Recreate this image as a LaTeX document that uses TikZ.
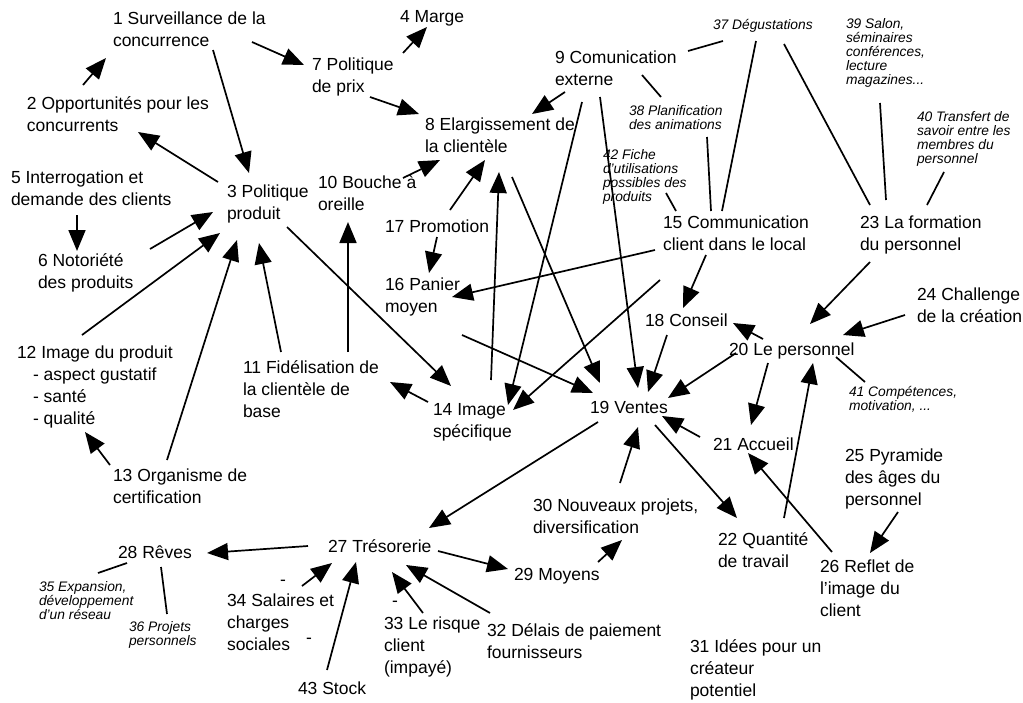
\documentclass[tikz,border=0pt]{standalone}
\usepackage{fontspec}
\setmainfont{Liberation Sans}
\usetikzlibrary{arrows.meta}

\begin{document}
\begin{tikzpicture}[x=1pt, y=-1pt]
        % Define block styles
        \tikzstyle{concept} = [anchor=north west, inner sep=0pt, outer sep=0pt, align=left, font=\fontsize{17.5}{22}\selectfont, execute at begin node={\rule{0pt}{14pt}}]
        \tikzstyle{note} = [anchor=north west, inner sep=0pt, outer sep=0pt, align=left, font=\fontsize{13.8}{14}\selectfont\itshape, execute at begin node={\rule{0pt}{11pt}}]
        \tikzstyle{line} = [draw, line width=1.7pt, -{Triangle[length=21pt, width=17pt]}]
        \tikzstyle{assoc} = [draw, line width=1.7pt]

        \path [fill=white] (0,0) rectangle (1023,702);

        % Nodes
        \node [concept] (Surveillance) at (113,12) {1 Surveillance de la\\concurrence};
        \node [concept] (Opportunites) at (27,97) {2 Opportunités pour les\\concurrents};
        \node [concept] (Politique_Produit) at (227,185) {3 Politique\\produit};
        \node [concept] (Marge) at (400,8) {4 Marge};
        \node [concept] (Interrogation) at (11,171) {5 Interrogation et\\demande des clients};
        \node [concept] (Notoriete) at (38,254) {6 Notoriété\\des produits};
        \node [concept] (Politique_Prix) at (312,58) {7 Politique\\de prix};
        \node [concept] (Elargissement) at (425,118) {8 Elargissement de\\la clientèle};
        \node [concept] (Comm_Externe) at (555,51) {9 Comunication\\externe};
        \node [concept] (Bouche_Oreille) at (318,176) {10 Bouche à\\oreille};
        \node [concept] (Fidelisation) at (243,361) {11 Fidélisation de\\la clientèle de\\base};
        \node [concept] (Image_Produit) at (17,346) {12 Image du produit\\\hspace*{16pt}- aspect gustatif\\\hspace*{16pt}- santé\\\hspace*{16pt}- qualité};
        \node [concept] (Certification) at (113,469) {13 Organisme de\\certification};
        \node [concept] (Image_Specifique) at (433,403) {14 Image\\spécifique};
        \node [concept] (Comm_Client) at (663,216) {15 Communication\\client dans le local};
        \node [concept] (Panier_Moyen) at (385,278) {16 Panier\\moyen};
        \node [concept] (Promotion) at (385,218) {17 Promotion};
        \node [concept] (Conseil) at (645,312) {18 Conseil};
        \node [concept] (Ventes) at (590,399) {19 Ventes};
        \node [concept] (Personnel) at (729,341) {20 Le personnel};
        \node [concept] (Accueil) at (713,436) {21 Accueil};
        \node [concept] (Quantite_Travail) at (718,533) {22 Quantité\\de travail};
        \node [concept] (Formation) at (860,216) {23 La formation\\du personnel};
        \node [concept] (Challenge) at (917,288) {24 Challenge\\de la création};
        \node [concept] (Pyramide) at (845,449) {25 Pyramide\\des âges du\\personnel};
        \node [concept] (Reflet) at (820,560) {26 Reflet de\\l’image du\\client};
        \node [concept] (Tresorerie) at (328,538) {27 Trésorerie};
        \node [concept] (Reves) at (118,544) {28 Rêves};
        \node [concept] (Moyens) at (514,566) {29 Moyens};
        \node [concept] (Nouveaux_Projets) at (533,499) {30 Nouveaux projets,\\diversification};
        \node [concept] (Idees) at (690,640) {31 Idées pour un\\créateur\\potentiel};
        \node [concept] (Delais) at (487,624) {32 Délais de paiement\\fournisseurs};
        \node [concept] (Risque_Client) at (384,617) {33 Le risque\\client\\(impayé)};
        \node [concept] (Salaires) at (227,594) {34 Salaires et\\charges\\sociales};
        \node [concept] (Stock) at (298,680) {43 Stock};
        \node [concept] (Minus_A) at (280,571) {-};
        \node [concept] (Minus_B) at (306,629) {-};
        \node [concept] (Minus_C) at (392,592) {-};

        % Notes
        \node [note] (Expansion) at (39,581) {35 Expansion,\\développement\\d’un réseau};
        \node [note] (Projets_Perso) at (129,621) {36 Projets\\personnels};
        \node [note] (Degustations) at (713,18) {37 Dégustations};
        \node [note] (Planification) at (629,105) {38 Planification\\des animations};
        \node [note] (Salon) at (846,18) {39 Salon,\\séminaires\\conférences,\\lecture\\magazines...};
        \node [note] (Transfert) at (917,111) {40 Transfert de\\savoir entre les\\membres du\\personnel};
        \node [note] (Competences) at (849,386) {41 Compétences,\\motivation, ...};
        \node [note] (Fiche) at (603,149) {42 Fiche\\d’utilisations\\possibles des\\produits};

        % Arrows
        \path [line] ([shift={(56,-12)}]Opportunites.north west) -- ([shift={(-7,46)}]Surveillance.north west);
        \path [line] ([shift={(139,30)}]Surveillance.north west) -- ([shift={(-8,7)}]Politique_Prix.north west);
        \path [line] ([shift={(100,38)}]Surveillance.north west) -- ([shift={(22,-12)}]Politique_Produit.north west);
        \path [line] ([shift={(-9,-3)}]Politique_Produit.north west) -- ([shift={(111,35)}]Opportunites.north west);
        \path [line] ([shift={(66,44)}]Interrogation.north west) -- ([shift={(39,-3)}]Notoriete.north west);
        \path [line] ([shift={(112,-5)}]Notoriete.north west) -- ([shift={(-14,27)}]Politique_Produit.north west);
        \path [line] ([shift={(65,-11)}]Image_Produit.north west) -- ([shift={(-7,48)}]Politique_Produit.north west);
        \path [line] ([shift={(54,-9)}]Certification.north west) -- ([shift={(10,55)}]Politique_Produit.north west);
        \path [line] ([shift={(38,-9)}]Fidelisation.north west) -- ([shift={(32,58)}]Politique_Produit.north west);
        \path [line] ([shift={(-3,-4)}]Certification.north west) -- ([shift={(68,86)}]Image_Produit.north west);
        \path [line] ([shift={(105,-9)}]Fidelisation.north west) -- ([shift={(30,46)}]Bouche_Oreille.north west);
        \path [line] ([shift={(60,42)}]Politique_Produit.north west) -- ([shift={(18,-17)}]Image_Specifique.north west);
        \path [line] ([shift={(-5,-1)}]Image_Specifique.north west) -- ([shift={(147,21)}]Fidelisation.north west);
        \path [line] ([shift={(58,-23)}]Image_Specifique.north west) -- ([shift={(74,54)}]Elargissement.north west);
        \path [line] ([shift={(85,2)}]Bouche_Oreille.north west) -- ([shift={(15,42)}]Elargissement.north west);
        \path [line] ([shift={(65,-8)}]Promotion.north west) -- ([shift={(60,42)}]Elargissement.north west);
        \path [line] ([shift={(52,19)}]Promotion.north west) -- ([shift={(44,-5)}]Panier_Moyen.north west);
        \path [line] ([shift={(91,-5)}]Politique_Prix.north west) -- ([shift={(27,19)}]Marge.north west);
        \path [line] ([shift={(58,39)}]Politique_Prix.north west) -- ([shift={(-6,-4)}]Elargissement.north west);
        \path [line] ([shift={(10,41)}]Comm_Externe.north west) -- ([shift={(107,-4)}]Elargissement.north west);
        \path [line] ([shift={(27,51)}]Comm_Externe.north west) -- ([shift={(75,2)}]Image_Specifique.north west);
        \path [line] ([shift={(45,46)}]Comm_Externe.north west) -- ([shift={(48,-11)}]Ventes.north west);
        \path [line] ([shift={(87,59)}]Elargissement.north west) -- ([shift={(10,-16)}]Ventes.north west);
        \path [line] ([shift={(77,57)}]Panier_Moyen.north west) -- ([shift={(3,-6)}]Ventes.north west);
        \path [line] ([shift={(-8,34)}]Comm_Client.north west) -- ([shift={(67,19)}]Panier_Moyen.north west);
        \path [line] ([shift={(-3,64)}]Comm_Client.north west) -- ([shift={(80,7)}]Image_Specifique.north west);
        \path [line] ([shift={(43,39)}]Comm_Client.north west) -- ([shift={(38,-4)}]Conseil.north west);
        \path [line] ([shift={(22,23)}]Conseil.north west) -- ([shift={(58,-7)}]Ventes.north west);
        \path [line] ([shift={(7,12)}]Personnel.north west) -- ([shift={(78,-1)}]Ventes.north west);
        \path [line] ([shift={(34,-2)}]Personnel.north west) -- ([shift={(88,11)}]Conseil.north west);
        \path [line] ([shift={(10,46)}]Formation.north west) -- ([shift={(81,-17)}]Personnel.north west);
        \path [line] ([shift={(-12,27)}]Challenge.north west) -- ([shift={(114,-6)}]Personnel.north west);
        \path [line] ([shift={(39,22)}]Personnel.north west) -- ([shift={(38,-11)}]Accueil.north west);
        \path [line] ([shift={(66,-15)}]Quantite_Travail.north west) -- ([shift={(84,22)}]Personnel.north west);
        \path [line] ([shift={(12,-8)}]Reflet.north west) -- ([shift={(35,17)}]Accueil.north west);
        \path [line] ([shift={(-13,1)}]Accueil.north west) -- ([shift={(72,17)}]Ventes.north west);
        \path [line] ([shift={(65,26)}]Ventes.north west) -- ([shift={(19,-15)}]Quantite_Travail.north west);
        \path [line] ([shift={(87,-16)}]Nouveaux_Projets.north west) -- ([shift={(48,28)}]Ventes.north west);
        \path [line] ([shift={(53,63)}]Pyramide.north west) -- ([shift={(50,-7)}]Reflet.north west);
        \path [line] ([shift={(8,23)}]Ventes.north west) -- ([shift={(101,-10)}]Tresorerie.north west);
        \path [line] ([shift={(84,-4)}]Moyens.north west) -- ([shift={(89,41)}]Nouveaux_Projets.north west);
        \path [line] ([shift={(110,13)}]Tresorerie.north west) -- ([shift={(-6,3)}]Moyens.north west);
        \path [line] ([shift={(-20,8)}]Tresorerie.north west) -- ([shift={(89,9)}]Reves.north west);
        \path [line] ([shift={(75,-8)}]Salaires.north west) -- ([shift={(4,25)}]Tresorerie.north west);
        \path [line] ([shift={(29,-10)}]Stock.north west) -- ([shift={(28,24)}]Tresorerie.north west);
        \path [line] ([shift={(39,-4)}]Risque_Client.north west) -- ([shift={(64,34)}]Tresorerie.north west);
        \path [line] ([shift={(3,-11)}]Delais.north west) -- ([shift={(78,27)}]Tresorerie.north west);

        % Plain links to the notes
        \path [assoc] ([shift={(107,16)}]Personnel.north west) -- ([shift={(16,-4)}]Competences.north west);
        \path [assoc] ([shift={(9,19)}]Reves.north west) -- ([shift={(59,-8)}]Expansion.north west);
        \path [assoc] ([shift={(43,23)}]Reves.north west) -- ([shift={(38,-7)}]Projets_Perso.north west);
        \path [assoc] ([shift={(133,0)}]Comm_Externe.north west) -- ([shift={(10,23)}]Degustations.north west);
        \path [assoc] ([shift={(87,24)}]Comm_Externe.north west) -- ([shift={(32,-8)}]Planification.north west);
        \path [assoc] ([shift={(78,32)}]Planification.north west) -- ([shift={(48,-5)}]Comm_Client.north west);
        \path [assoc] ([shift={(43,23)}]Degustations.north west) -- ([shift={(59,-5)}]Comm_Client.north west);
        \path [assoc] ([shift={(63,44)}]Fiche.north west) -- ([shift={(13,-5)}]Comm_Client.north west);
        \path [assoc] ([shift={(71,26)}]Degustations.north west) -- ([shift={(10,-11)}]Formation.north west);
        \path [assoc] ([shift={(34,85)}]Salon.north west) -- ([shift={(26,-16)}]Formation.north west);
        \path [assoc] ([shift={(27,61)}]Transfert.north west) -- ([shift={(67,-11)}]Formation.north west);
    \end{tikzpicture}
\end{document}
